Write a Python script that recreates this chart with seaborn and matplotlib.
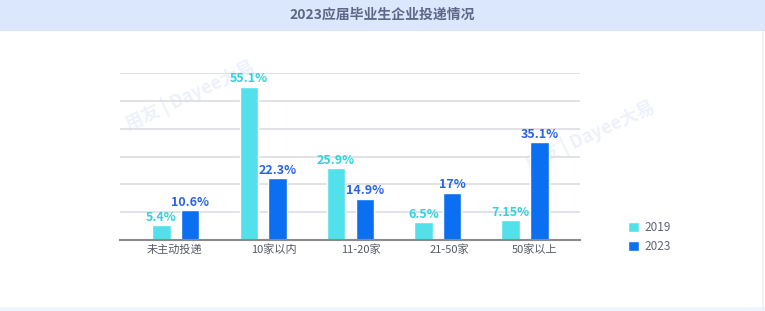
import matplotlib
matplotlib.use("Agg")
import matplotlib.pyplot as plt
import seaborn as sns
import pandas as pd
from matplotlib.patches import Rectangle

categories = ["未主动投递", "10家以内", "11-20家", "21-50家", "50家以上"]
years = ["2019", "2023"]
values_2019 = [5.4, 55.1, 25.9, 6.5, 7.15]
values_2023 = [10.6, 22.3, 14.9, 17, 35.1]
labels_2019 = ["5.4%", "55.1%", "25.9%", "6.5%", "7.15%"]
labels_2023 = ["10.6%", "22.3%", "14.9%", "17%", "35.1%"]

bar_colors = ["#52e0ea", "#0a6ff0"]
label_colors = ["#2fd3de", "#2a62e6"]

df = pd.DataFrame({
    "category": categories * 2,
    "year": [years[0]] * len(categories) + [years[1]] * len(categories),
    "value": values_2019 + values_2023,
})

sns.set_theme(style="white")
plt.rcParams['font.family'] = ['Noto Sans CJK SC', 'DejaVu Sans']

fig = plt.figure(figsize=(7.65, 3.11), dpi=100)
fig.patch.set_facecolor("white")

# title band
fig.patches.append(Rectangle((0, 1 - 31 / 311), 1, 31 / 311, transform=fig.transFigure,
                             facecolor="#dbe7fd", edgecolor="none", zorder=-5))
# bottom band
fig.patches.append(Rectangle((0, 0), 1, 4 / 311, transform=fig.transFigure,
                             facecolor="#eef5ff", edgecolor="none", zorder=-5))
# right border
fig.patches.append(Rectangle((762 / 765, 0), 2 / 765, 1 - 31 / 311, transform=fig.transFigure,
                             facecolor="#eef2f8", edgecolor="none", zorder=-5))
fig.text(382 / 765, 1 - 15 / 311, "2023应届毕业生企业投递情况", ha="center", va="center",
         fontsize=10, color="#5f6786", fontweight="bold")

# faint watermarks (behind the axes)
for (wx, wy) in [(190, 95), (590, 135)]:
    fig.text(wx / 765, 1 - wy / 311, "用友 | Dayee大易", ha="center", va="center",
             fontsize=13, color="#edf1f9", fontweight="bold", rotation=25, zorder=-1)

ax = fig.add_axes([120 / 765, 1 - 240 / 311, 460 / 765, 167 / 311])
ax.patch.set_alpha(0)
sns.barplot(data=df, x="category", y="value", hue="year", palette=bar_colors,
            width=0.66, gap=0.36, ax=ax, legend=True, saturation=1, zorder=3)

ax.set_ylim(0, 60)
ax.set_xlim(-0.64, 4.63)
ax.set_yticks(range(0, 61, 10))
ax.set_yticklabels([])
ax.tick_params(axis="y", length=0)
ax.set_xticks([-0.02, 1.12, 2.12, 3.13, 4.11], labels=categories)
ax.tick_params(axis="x", length=0, pad=3, labelsize=8, labelcolor="#555a66")
ax.grid(axis="y", color="#dcdde0", linewidth=1.2, zorder=0)
ax.set_axisbelow(True)
for s in ["top", "right", "left"]:
    ax.spines[s].set_visible(False)
ax.spines["bottom"].set_color("#8a8a8a")
ax.spines["bottom"].set_linewidth(1.5)
ax.spines["bottom"].set_zorder(5)
ax.set_xlabel("")
ax.set_ylabel("")

for container, labs, col in zip(ax.containers, [labels_2019, labels_2023], label_colors):
    ax.bar_label(container, labels=labs, padding=1, color=col, fontsize=9,
                 fontweight="bold")

handles, _ = ax.get_legend_handles_labels()
ax.legend(handles, years, loc="center left", bbox_to_anchor=(622 / 765, 1 - 237 / 311),
          bbox_transform=fig.transFigure, frameon=False, fontsize=8.5,
          labelcolor="#5f6478", handlelength=0.9, handleheight=0.9,
          handletextpad=0.5, labelspacing=0.55, borderpad=0)

fig.savefig("out.png", dpi=100)
